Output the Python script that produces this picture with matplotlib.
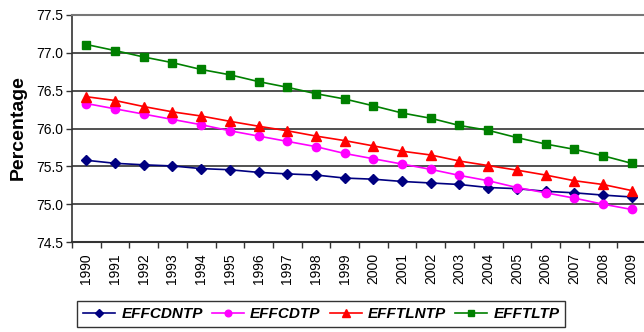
import numpy as np
import matplotlib.pyplot as plt
from matplotlib.ticker import FixedLocator, MultipleLocator

# years and efficiency series (%)
years = [str(y) for y in range(1990, 2010)]
effcdntp = [75.58, 75.54, 75.52, 75.505, 75.47, 75.455, 75.42, 75.40, 75.385, 75.345,
            75.33, 75.30, 75.28, 75.26, 75.22, 75.205, 75.17, 75.15, 75.12, 75.095]
effcdtp = [76.33, 76.26, 76.19, 76.12, 76.05, 75.97, 75.90, 75.83, 75.76, 75.67,
           75.60, 75.53, 75.46, 75.38, 75.31, 75.22, 75.15, 75.08, 75.00, 74.93]
efftlntp = [76.42, 76.37, 76.29, 76.22, 76.165, 76.095, 76.03, 75.97, 75.90, 75.84,
            75.77, 75.70, 75.65, 75.57, 75.51, 75.45, 75.385, 75.31, 75.26, 75.18]
efftltp = [77.11, 77.03, 76.945, 76.87, 76.78, 76.71, 76.62, 76.545, 76.46, 76.39,
           76.30, 76.205, 76.135, 76.04, 75.976, 75.88, 75.795, 75.725, 75.64, 75.54]

plt.rcParams['font.family'] = ['Liberation Sans', 'DejaVu Sans']

fig = plt.figure(figsize=(6.44, 3.32), dpi=100)
ax = fig.add_axes([72 / 644, 1 - 242 / 332, 574 / 644, 227 / 332])

x = np.arange(len(years))
series = [
    ("EFFCDNTP", effcdntp, "#000080", "D", 5.5),
    ("EFFCDTP", effcdtp, "#ff00ff", "o", 6),
    ("EFFTLNTP", efftlntp, "#ff0000", "^", 7),
    ("EFFTLTP", efftltp, "#008000", "s", 6),
]
for name, vals, col, mk, ms in series:
    ax.plot(x, vals, color=col, marker=mk, markersize=ms, linewidth=1.2,
            label=name, clip_on=False, zorder=3)

# axes and grid
ax.set_xlim(-0.5, len(years) - 0.5)
ax.set_ylim(74.5, 77.5)
ax.yaxis.set_major_locator(MultipleLocator(0.5))
ax.yaxis.set_major_formatter(plt.FormatStrFormatter("%.1f"))
ax.grid(axis="y", color="#222222", linewidth=1.1)
ax.set_axisbelow(True)

ax.set_xticks(x)
ax.set_xticklabels(years, rotation=90, fontsize=10)
ax.tick_params(axis="x", which="major", length=0, pad=8)
ax.xaxis.set_minor_locator(FixedLocator(np.arange(-0.5, len(years), 1.0)))
ax.tick_params(axis="x", which="minor", length=4, width=1, color="#333333")
ax.tick_params(axis="y", labelsize=10, length=4, width=1, color="#333333", pad=2)

ax.spines["right"].set_visible(False)
ax.spines["top"].set_color("#777777")
ax.spines["top"].set_linewidth(1.5)
ax.spines["left"].set_color("#333333")
ax.spines["bottom"].set_color("#333333")
ax.spines["left"].set_linewidth(1.2)
ax.spines["bottom"].set_linewidth(1.5)

fig.text(18 / 644, 1 - 128 / 332, "Percentage", rotation=90, fontsize=14,
         fontweight="bold", ha="center", va="center")

leg = fig.legend(loc="upper left", bbox_to_anchor=(77 / 644, 1 - 301 / 332),
                 borderaxespad=0, ncol=4, frameon=True, fancybox=False,
                 handlelength=2.1, columnspacing=0.6, handletextpad=0.4,
                 borderpad=0.4, markerscale=0.8,
                 prop={"weight": "bold", "style": "italic", "size": 11})
leg.get_frame().set_edgecolor("black")
leg.get_frame().set_linewidth(1.0)

fig.savefig("out.png", dpi=100)
